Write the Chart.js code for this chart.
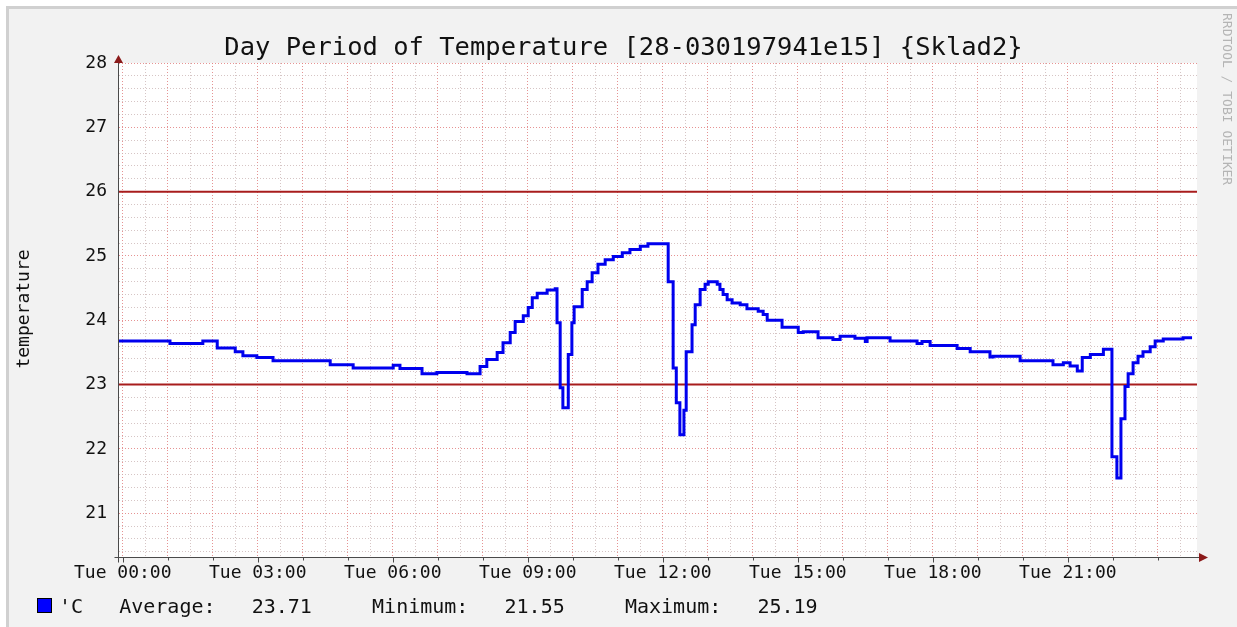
<!DOCTYPE html>
<html>
<head>
<meta charset="utf-8">
<title>Day Period of Temperature</title>
<script src="https://cdn.jsdelivr.net/npm/chart.js@4.4.1/dist/chart.umd.min.js"></script>
<style>
    html, body { margin: 0; padding: 0; background: #ffffff; }
    canvas { display: block; }
</style>
</head>
<body>
<canvas id="tempChart" width="1237" height="627"></canvas>
<script>
// hours since Tue 00:00 where the reading changes, and the reading itself
const hours = [-0.105, 1.05, 1.78, 2.10, 2.50, 2.67, 2.98, 3.34, 4.61, 5.12, 6.01, 6.16, 6.65, 6.98, 7.65, 7.94,
    8.09, 8.32, 8.45, 8.61, 8.72, 8.90, 9.01, 9.10, 9.21, 9.43, 9.61, 9.65, 9.72, 9.78, 9.90, 9.98,
    10.03, 10.21, 10.32, 10.43, 10.56, 10.72, 10.90, 11.10, 11.27, 11.50, 11.67, 12.12, 12.23, 12.30, 12.38, 12.47,
    12.52, 12.65, 12.72, 12.83, 12.94, 13.01, 13.21, 13.27, 13.34, 13.43, 13.54, 13.72, 13.87, 14.12, 14.23, 14.32,
    14.65, 15.01, 15.12, 15.45, 15.78, 15.94, 16.27, 16.50, 16.54, 17.05, 17.65, 17.76, 17.94, 18.54, 18.83, 19.27,
    19.34, 19.94, 20.67, 20.90, 21.05, 21.21, 21.32, 21.50, 21.79, 21.98, 22.09, 22.18, 22.27, 22.34, 22.45, 22.56,
    22.67, 22.83, 22.94, 23.12, 23.56, 23.76];
const temps = [23.68, 23.64, 23.68, 23.57, 23.51, 23.45, 23.42, 23.37, 23.31, 23.26, 23.30, 23.25, 23.17, 23.19, 23.17, 23.28,
    23.39, 23.50, 23.65, 23.81, 23.98, 24.07, 24.20, 24.35, 24.42, 24.47, 24.49, 23.96, 22.95, 22.64, 23.47, 23.96,
    24.21, 24.48, 24.60, 24.74, 24.87, 24.94, 24.99, 25.05, 25.10, 25.15, 25.19, 24.60, 23.26, 22.72, 22.22, 22.60,
    23.51, 23.93, 24.24, 24.48, 24.56, 24.60, 24.56, 24.48, 24.40, 24.32, 24.27, 24.24, 24.18, 24.14, 24.09, 24.00,
    23.89, 23.81, 23.82, 23.73, 23.70, 23.75, 23.72, 23.67, 23.73, 23.68, 23.64, 23.67, 23.61, 23.56, 23.51, 23.43,
    23.44, 23.37, 23.31, 23.34, 23.29, 23.21, 23.42, 23.47, 23.55, 21.88, 21.55, 22.47, 22.97, 23.17, 23.34, 23.44,
    23.51, 23.59, 23.68, 23.71, 23.73, 23.73];
const limits = [26, 23];
const statNames = ['Average', 'Minimum', 'Maximum'];
const statValues = [23.71, 21.55, 25.19];
const unitLabel = "'C";
const dayName = 'Tue';

const X_MIN = -0.105, X_MAX = 23.87;
const Y_MIN = 20.32, Y_MAX = 28;
const MONO = '"DejaVu Sans Mono", monospace';
const MAJOR_GRID = 'rgba(226, 128, 128, 0.85)';
const MINOR_GRID = 'rgba(200, 178, 178, 0.75)';

function isWhole(v) {
    return Math.abs(v - Math.round(v)) < 1e-6;
}

const points = hours.map((h, i) => ({ x: h, y: temps[i] }));

const ruleSets = limits.map(v => ({
    data: [{ x: X_MIN, y: v }, { x: X_MAX, y: v }],
    borderColor: '#a81c1c',
    borderWidth: 2,
    pointRadius: 0,
    fill: false
}));

// background, frame and white plot area
const framePlugin = {
    id: 'frame',
    beforeDraw(chart) {
        const ctx = chart.ctx;
        const a = chart.chartArea;
        ctx.save();
        ctx.fillStyle = '#ffffff';
        ctx.fillRect(0, 0, chart.width, chart.height);
        ctx.fillStyle = '#d0d0d0';
        ctx.fillRect(6, 6, chart.width - 6, chart.height - 6);
        ctx.fillStyle = '#f2f2f2';
        ctx.fillRect(9, 9, chart.width - 9, chart.height - 9);
        ctx.fillStyle = '#ffffff';
        ctx.fillRect(a.left, a.top, a.right - a.left, a.bottom - a.top);
        ctx.restore();
    }
};

// axis arrows, titles, watermark and the legend line
const decorPlugin = {
    id: 'decor',
    afterDraw(chart) {
        const ctx = chart.ctx;
        const a = chart.chartArea;
        const x0 = Math.round(a.left) + 0.5;
        const y0 = Math.round(a.bottom) + 0.5;
        ctx.save();

        ctx.strokeStyle = '#4a4a4a';
        ctx.lineWidth = 1;
        ctx.beginPath();
        ctx.moveTo(x0, y0 + 5);
        ctx.lineTo(x0, a.top - 5);
        ctx.moveTo(x0 - 4, y0);
        ctx.lineTo(a.right + 4, y0);
        ctx.stroke();

        // small ticks under the x axis on every hour
        const xs = chart.scales.x;
        ctx.beginPath();
        for (let h = 0; h <= 23; h++) {
            const px = Math.round(xs.getPixelForValue(h)) + 0.5;
            ctx.moveTo(px, y0);
            ctx.lineTo(px, y0 + (h % 3 === 0 ? 5 : 3));
        }
        ctx.stroke();

        ctx.fillStyle = '#8b1a1a';
        ctx.beginPath();
        ctx.moveTo(x0, a.top - 8);
        ctx.lineTo(x0 - 4.5, a.top);
        ctx.lineTo(x0 + 4.5, a.top);
        ctx.closePath();
        ctx.fill();
        ctx.beginPath();
        ctx.moveTo(a.right + 11, y0);
        ctx.lineTo(a.right + 2, y0 - 4.5);
        ctx.lineTo(a.right + 2, y0 + 4.5);
        ctx.closePath();
        ctx.fill();

        ctx.fillStyle = '#111111';
        ctx.font = '25.5px ' + MONO;
        ctx.textAlign = 'center';
        ctx.textBaseline = 'alphabetic';
        ctx.fillText('Day Period of Temperature [28-030197941e15] {Sklad2}', 623.5, 55);

        ctx.save();
        ctx.translate(24, 309);
        ctx.rotate(-Math.PI / 2);
        ctx.font = '18px ' + MONO;
        ctx.textBaseline = 'middle';
        ctx.fillText('temperature', 0, 0);
        ctx.restore();

        ctx.save();
        ctx.translate(1226, 13);
        ctx.rotate(Math.PI / 2);
        ctx.font = '13px ' + MONO;
        ctx.fillStyle = '#b4b4b4';
        ctx.textAlign = 'left';
        ctx.textBaseline = 'middle';
        ctx.fillText('RRDTOOL / TOBI OETIKER', 0, 0);
        ctx.restore();

        ctx.fillStyle = '#0000ff';
        ctx.fillRect(37.5, 598.5, 14, 14);
        ctx.strokeStyle = '#000000';
        ctx.strokeRect(37.5, 598.5, 14, 14);

        let line = unitLabel;
        statNames.forEach((name, i) => {
            line += (i === 0 ? '   ' : '     ') + name + ':   ' + statValues[i].toFixed(2);
        });
        ctx.fillStyle = '#111111';
        ctx.font = '20px ' + MONO;
        ctx.textAlign = 'left';
        ctx.textBaseline = 'alphabetic';
        ctx.fillText(line, 59, 613);

        ctx.restore();
    }
};

new Chart(document.getElementById('tempChart'), {
    type: 'line',
    data: {
        datasets: [{
            data: points,
            borderColor: '#0000ee',
            borderWidth: 3,
            pointRadius: 0,
            stepped: true,
            fill: false
        }].concat(ruleSets)
    },
    options: {
        responsive: false,
        animation: false,
        events: [],
        layout: { padding: { left: 0, right: 40, top: 63, bottom: 0 } },
        plugins: {
            legend: { display: false },
            title: { display: false },
            tooltip: { enabled: false }
        },
        scales: {
            x: {
                type: 'linear',
                min: X_MIN,
                max: X_MAX,
                afterFit(scale) { scale.height = 70; },
                ticks: {
                    stepSize: 0.5,
                    includeBounds: false,
                    autoSkip: false,
                    maxRotation: 0,
                    padding: 6,
                    color: '#111111',
                    font: { family: MONO, size: 18 },
                    callback(value) {
                        if (isWhole(value) && Math.round(value) % 3 === 0) {
                            return dayName + ' ' + String(Math.round(value)).padStart(2, '0') + ':00';
                        }
                        return '';
                    }
                },
                grid: {
                    drawTicks: false,
                    lineWidth: 1,
                    color: ctx => isWhole(ctx.tick.value) ? MAJOR_GRID : MINOR_GRID
                },
                border: { display: true, color: '#4a4a4a', dash: [1, 2] }
            },
            y: {
                type: 'linear',
                min: Y_MIN,
                max: Y_MAX,
                afterFit(scale) { scale.width = 118; },
                ticks: {
                    stepSize: 0.2,
                    includeBounds: false,
                    autoSkip: false,
                    padding: 11,
                    color: '#111111',
                    font: { family: MONO, size: 18 },
                    callback(value) {
                        return isWhole(value) ? String(Math.round(value)) : '';
                    }
                },
                grid: {
                    drawTicks: false,
                    lineWidth: 1,
                    color: ctx => isWhole(ctx.tick.value) ? MAJOR_GRID : MINOR_GRID
                },
                border: { display: true, color: '#4a4a4a', dash: [1, 2] }
            }
        }
    },
    plugins: [framePlugin, decorPlugin]
});
</script>
</body>
</html>
